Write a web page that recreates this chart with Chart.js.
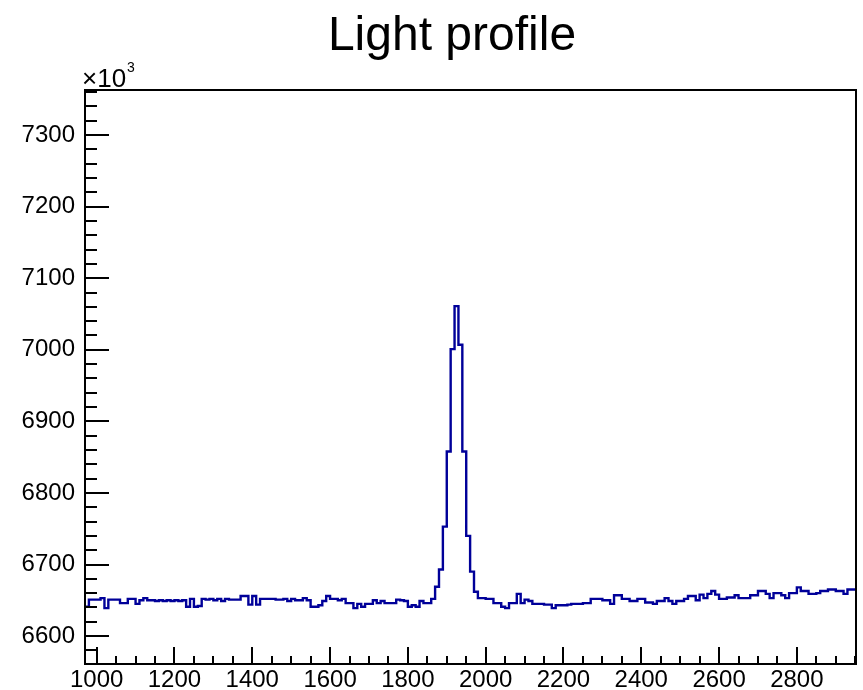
<!DOCTYPE html>
<html lang="en">
<head>
<meta charset="UTF-8">
<title>Light profile</title>
<script src="https://cdn.jsdelivr.net/npm/chart.js"></script>
<style>
    html, body { margin: 0; padding: 0; background: #fff; }
    #profile { display: block; }
</style>
</head>
<body>
<canvas id="profile" width="863" height="690"></canvas>
<script>
// histogram bins: 10 units wide, first bin starts at 970 (values are x10^3)
const binStart = 970;
const binWidth = 10;
const counts = [
    6641, 6651, 6651, 6651, 6653, 6639, 6651, 6651, 6651, 6646,
    6646, 6652, 6652, 6645, 6650, 6653, 6650, 6650, 6649, 6650,
    6649, 6650, 6649, 6650, 6649, 6650, 6641, 6652, 6641, 6642,
    6652, 6651, 6652, 6650, 6652, 6649, 6652, 6651, 6651, 6651,
    6656, 6656, 6644, 6656, 6644, 6652, 6652, 6652, 6652, 6651,
    6651, 6652, 6649, 6652, 6650, 6650, 6653, 6650, 6641, 6641,
    6643, 6649, 6656, 6652, 6652, 6650, 6652, 6646, 6646, 6639,
    6645, 6641, 6645, 6645, 6650, 6646, 6649, 6646, 6646, 6646,
    6651, 6650, 6649, 6641, 6643, 6641, 6649, 6646, 6646, 6652,
    6669, 6693, 6753, 6858, 7001, 7061, 7007, 6858, 6740, 6690,
    6662, 6653, 6653, 6652, 6652, 6646, 6646, 6641, 6639, 6646,
    6646, 6659, 6646, 6651, 6649, 6645, 6645, 6645, 6644, 6644,
    6639, 6643, 6643, 6643, 6644, 6645, 6645, 6645, 6646, 6646,
    6652, 6652, 6652, 6650, 6650, 6645, 6657, 6657, 6652, 6652,
    6649, 6649, 6652, 6652, 6647, 6647, 6645, 6649, 6649, 6653,
    6649, 6645, 6649, 6649, 6652, 6656, 6656, 6650, 6658, 6653,
    6659, 6663, 6658, 6652, 6652, 6654, 6654, 6657, 6653, 6653,
    6653, 6657, 6657, 6663, 6663, 6659, 6653, 6660, 6660, 6657,
    6653, 6660, 6660, 6668, 6663, 6663, 6659, 6659, 6660, 6663,
    6663, 6665, 6665, 6663, 6663, 6659, 6665, 6665
];

const xTicks = [1000, 1200, 1400, 1600, 1800, 2000, 2200, 2400, 2600, 2800];
const yTicks = [6600, 6700, 6800, 6900, 7000, 7100, 7200, 7300];
const chartTitle = 'Light profile';

const FONT = '"Liberation Sans", Arial, Helvetica, sans-serif';

// outline points: left edge of every bin, plus the right edge of the last one
const points = counts.map((c, i) => ({ x: binStart + i * binWidth, y: c }));
points.push({ x: binStart + counts.length * binWidth, y: counts[counts.length - 1] });

// ROOT style frame with inward ticks, the title and the x10^3 exponent
const rootFrame = {
    id: 'rootFrame',
    afterDraw(chart) {
        const { ctx, chartArea: a, scales: { x, y } } = chart;
        ctx.save();
        ctx.strokeStyle = '#000';
        ctx.lineWidth = 2;
        ctx.strokeRect(a.left, a.top, a.right - a.left, a.bottom - a.top);

        ctx.beginPath();
        for (let v = 6560; v <= 7360; v += 20) {
            if (v < y.min || v > y.max) continue;
            const py = Math.round(y.getPixelForValue(v));
            const len = v % 100 === 0 ? 24 : 12;
            ctx.moveTo(a.left, py);
            ctx.lineTo(a.left + len, py);
        }
        for (let v = 950; v <= 2950; v += 50) {
            if (v < x.min || v > x.max) continue;
            const px = Math.round(x.getPixelForValue(v));
            const len = v % 200 === 0 ? 17 : 8;
            ctx.moveTo(px, a.bottom);
            ctx.lineTo(px, a.bottom - len);
        }
        ctx.stroke();

        ctx.fillStyle = '#000';
        ctx.textBaseline = 'alphabetic';
        ctx.textAlign = 'center';
        ctx.font = '48px ' + FONT;
        ctx.fillText(chartTitle, 452, 50);

        ctx.textAlign = 'left';
        ctx.font = '26px ' + FONT;
        ctx.fillText('×10', 82, 87);
        const w = ctx.measureText('×10').width;
        ctx.font = '14px ' + FONT;
        ctx.fillText('3', 82 + w + 1, 72);
        ctx.restore();
    }
};

new Chart(document.getElementById('profile'), {
    type: 'line',
    data: {
        datasets: [{
            data: points,
            stepped: 'before',
            borderColor: '#000099',
            borderWidth: 2.4,
            pointRadius: 0,
            fill: false
        }]
    },
    options: {
        responsive: false,
        animation: false,
        layout: { padding: { top: 90, left: 0, right: 7, bottom: 0 } },
        plugins: {
            legend: { display: false },
            tooltip: { enabled: false },
            title: { display: false }
        },
        scales: {
            x: {
                type: 'linear',
                min: 970,
                max: 2952,
                afterBuildTicks: s => { s.ticks = xTicks.map(v => ({ value: v })); },
                afterFit: s => { s.height = 26; },
                grid: { display: false, drawTicks: false },
                border: { display: false },
                ticks: {
                    color: '#000',
                    font: { family: FONT, size: 24 },
                    padding: 2,
                    maxRotation: 0,
                    autoSkip: false,
                    callback: v => String(v)
                }
            },
            y: {
                type: 'linear',
                min: 6561,
                max: 7363,
                afterBuildTicks: s => { s.ticks = yTicks.map(v => ({ value: v })); },
                afterFit: s => { s.width = 85; },
                grid: { display: false, drawTicks: false },
                border: { display: false },
                ticks: {
                    color: '#000',
                    font: { family: FONT, size: 24 },
                    padding: 10,
                    autoSkip: false,
                    callback: v => String(v)
                }
            }
        }
    },
    plugins: [rootFrame]
});
</script>
</body>
</html>
